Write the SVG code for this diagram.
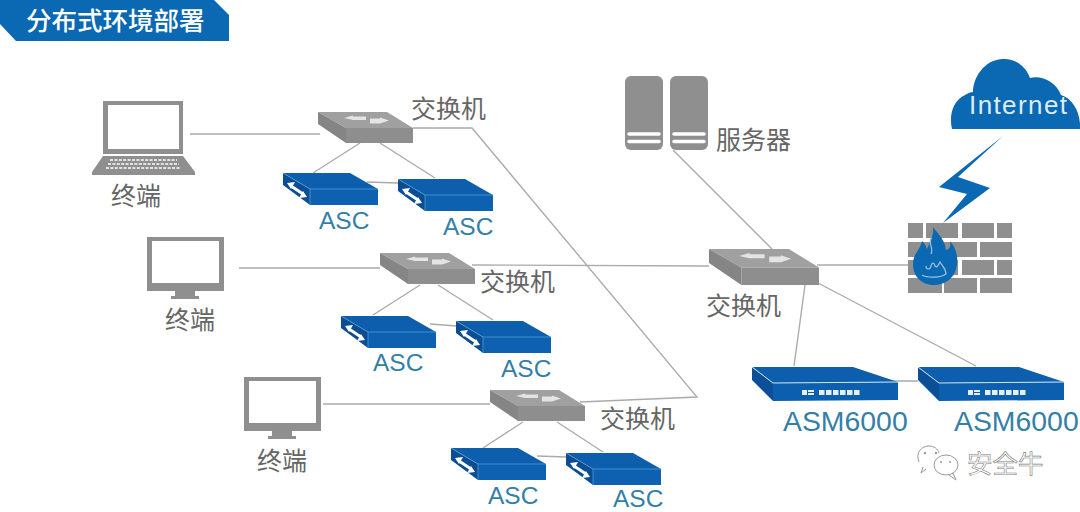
<svg xmlns="http://www.w3.org/2000/svg" width="1080" height="512" viewBox="0 0 1080 512">
<style>
.lbl{font-family:"Noto Sans CJK SC","Liberation Sans",sans-serif;font-size:25px;fill:#666}
.en{font-family:"Liberation Sans",sans-serif;font-size:24.5px;fill:#347fa8}
.em{font-family:"Liberation Sans",sans-serif;font-size:28.4px;fill:#347fa8}
.ln{fill:none;stroke:#ababab;stroke-width:1.4}
.g{fill:#8f8f8f}
.b{fill:#0b68b3}
</style>
<defs>
<g id="sw">
<polygon points="0,0 69,0 95,16 28,16" fill="#a0a0a0"/>
<polygon points="0,0 28,16 28,31 0,12" fill="#858585"/>
<polygon points="28,16 95,16 95,31 28,31" fill="#8e8e8e"/>
<polygon points="26,6 35,3.500 35,4.500 48,4.500 48,8 35,8" fill="#e4e4e4"/>
<polygon points="52,6.500 62,6.500 62,5.500 71,8.500 62,11.500 52,11.500" fill="#e4e4e4"/>
</g>
<g id="asc">
<polygon points="0,0 67,0 95,16 27,16" fill="#0d5fad"/>
<polygon points="0,0 27,16 27,32 0,12" fill="#0a4d92"/>
<polygon points="27,16 95,16 95,32 27,32" fill="#0d61b0"/>
<path d="M0,0L27,16V32M27,16H95" stroke="#5aa3dc" stroke-width="0.7" fill="none"/>
<path d="M8,13L20,21" stroke="#fff" stroke-width="3" fill="none"/>
<polygon points="4,10 12,9 8,16" fill="#fff"/>
<polygon points="24,24 16,25 20,18" fill="#fff"/>
</g>
<g id="asm">
<polygon points="0,0 101,0 146,15 21,16" fill="#0d5fad"/>
<polygon points="0,0 21,16 21,34 0,13" fill="#0a4f97"/>
<polygon points="21,16 146,15 146,33 21,34" fill="#0c5fae"/>
<path d="M0,0 L21,16 L146,15" stroke="#cfe3f5" stroke-width="1" fill="none"/>
<g fill="#e6eef6"><rect x="50" y="23" width="5" height="5"/><rect x="56" y="23" width="6" height="2"/><rect x="56" y="26" width="6" height="2"/><rect x="67" y="23" width="5.500" height="5"/><rect x="74" y="23" width="5.500" height="5"/><rect x="81" y="23" width="5.500" height="5"/><rect x="88" y="23" width="5.500" height="5"/><rect x="95" y="23" width="5.500" height="5"/><rect x="102" y="23" width="5.500" height="5"/></g>
</g>
<g id="mon">
<path fill-rule="evenodd" class="g" d="M0,0H77V54H0ZM5,4V46H72V4Z"/>
<rect x="28" y="54" width="20" height="5" class="g"/>
<rect x="24" y="59" width="28" height="3" class="g"/>
</g>
</defs>

<g id="title">
<polygon points="0,0 214,0 229,15 229,41 16,41 0,24" class="b"/>
<text x="26" y="30" font-family="'Noto Sans CJK SC',sans-serif" font-size="25.500" font-weight="500" fill="#fff">分布式环境部署</text>
</g>

<g id="connectors">
<path class="ln" d="M190,134H320"/>
<path class="ln" d="M360,143L313,173M380,143L435,178M367,182L398,183"/>
<path class="ln" d="M413,128H472L697,397L580,402"/>
<path class="ln" d="M239,268H380M472,265L709,266"/>
<path class="ln" d="M420,285L373,315M438,285L493,320M430,324L457,326"/>
<path class="ln" d="M323,404H490"/>
<path class="ln" d="M523,422L483,448M557,422L603,452M537,456L567,457"/>
<path class="ln" d="M673,150L772,249"/>
<path class="ln" d="M817,265H908"/>
<path class="ln" d="M805,285L794,366M818,283L976,366M893,381H918"/>
</g>

<g id="laptop">
<path fill-rule="evenodd" class="g" d="M103,101H183V154H103ZM108,105V149H179V105Z"/>
<polygon class="g" points="103,156 183,156 195,172 195,175 92,175 92,172"/>
<path d="M110,160H177M108,164H179M106,168H181" stroke="#fff" stroke-width="1.600" stroke-dasharray="3 1.400" fill="none"/>
<text x="111" y="205" class="lbl">终端</text>
</g>
<g id="monitor1"><use href="#mon" x="147" y="237"/><text x="165" y="329" class="lbl">终端</text></g>
<g id="monitor2"><use href="#mon" x="244" y="377"/><text x="257" y="470" class="lbl">终端</text></g>

<g id="switch1"><use href="#sw" x="318" y="112"/><text x="411" y="118" class="lbl">交换机</text></g>
<g id="switch2"><use href="#sw" x="380" y="253"/><text x="480" y="291" class="lbl">交换机</text></g>
<g id="switch3"><use href="#sw" x="490" y="390"/><text x="600" y="428" class="lbl">交换机</text></g>
<g id="switch-core"><use href="#sw" transform="translate(709 249) scale(1.158)"/><text x="706" y="315" class="lbl">交换机</text></g>

<g id="asc1"><use href="#asc" x="283" y="173"/><text x="319" y="229" class="en">ASC</text></g>
<g id="asc2"><use href="#asc" x="398" y="179"/><text x="443" y="235" class="en">ASC</text></g>
<g id="asc3"><use href="#asc" x="341" y="316"/><text x="373" y="371" class="en">ASC</text></g>
<g id="asc4"><use href="#asc" x="456" y="321"/><text x="501" y="377" class="en">ASC</text></g>
<g id="asc5"><use href="#asc" x="451" y="448"/><text x="488" y="504" class="en">ASC</text></g>
<g id="asc6"><use href="#asc" x="566" y="453"/><text x="613" y="507" class="en">ASC</text></g>

<g id="server">
<g class="g">
<rect x="625" y="76" width="38" height="74" rx="6"/>
<rect x="670" y="76" width="38" height="74" rx="6"/>
</g>
<path d="M629,134H659M629,141.500H659M674,134H704M674,141.500H704" stroke="#fff" stroke-width="3.600" stroke-linecap="round"/>
<text x="716" y="149" class="lbl">服务器</text>
</g>

<g id="asm1"><use href="#asm" x="752" y="367"/><text x="783" y="431" class="em">ASM6000</text></g>
<g id="asm2"><use href="#asm" x="918" y="367"/><text x="954" y="431" class="em">ASM6000</text></g>

<g id="internet">
<path class="b" d="M952,129C949,117 952,101 965,95C968,93 971,92 973,92C973,78 984,60 1002,59C1015,58 1026,66 1030,78C1042,75 1056,82 1061,95C1072,98 1081,112 1080,129Z"/>
<text x="969" y="114" font-family="'Liberation Sans',sans-serif" font-size="26" textLength="98" fill="#dcecf8">Internet</text>
<polygon class="b" points="1003,136 939,187 967,194 943,223 990,188 958,177"/>
</g>

<g id="firewall">
<g class="g">
<rect x="908" y="223" width="15" height="15"/><rect x="926" y="223" width="32" height="15"/><rect x="962" y="223" width="32" height="15"/><rect x="997" y="223" width="15" height="15"/>
<rect x="908" y="242" width="34" height="15"/><rect x="944" y="242" width="33" height="15"/><rect x="980" y="242" width="32" height="15"/>
<rect x="908" y="260" width="15" height="15"/><rect x="926" y="260" width="32" height="15"/><rect x="962" y="260" width="32" height="15"/><rect x="997" y="260" width="15" height="15"/>
<rect x="908" y="278" width="34" height="15"/><rect x="944" y="278" width="33" height="15"/><rect x="980" y="278" width="32" height="15"/>
</g>
<path class="b" d="M933,227C939,235 945,240 946,250C950,249 951,246 950,241C956,248 958,256 957,264C956,276 947,285 934,285C921,285 913,276 913,264C913,254 920,250 922,241C925,244 926,246 927,249C930,242 934,236 933,227Z"/>
<path d="M931,238C928,244 934,248 931,254M922,275C927,278 941,278 946,274C946,268 942,266 940,262C938,266 937,268 935,266C934,262 932,262 931,266C930,270 926,270 926,266" stroke="#9cc3e4" stroke-width="1.200" fill="none"/>
</g>

<g id="watermark">
<g fill="none" stroke="#9a9a9a" stroke-width="1">
<path d="M919,462C915,452 922,446 929,446C934,446 938,449 939,453M926,469L921,473L923,467"/>
<ellipse cx="946" cy="465" rx="12" ry="10"/>
<path d="M953,473L956,480L949,475"/>
</g>
<g fill="#9a9a9a"><circle cx="925" cy="453" r="1.200"/><circle cx="936" cy="453" r="1.200"/><circle cx="941" cy="462" r="1"/><circle cx="950" cy="462" r="1"/></g>
<text x="967" y="473" font-family="'Noto Sans CJK SC',sans-serif" font-size="25.500" fill="#fff" stroke="#808080" stroke-width="0.600">安全牛</text>
</g>
</svg>
